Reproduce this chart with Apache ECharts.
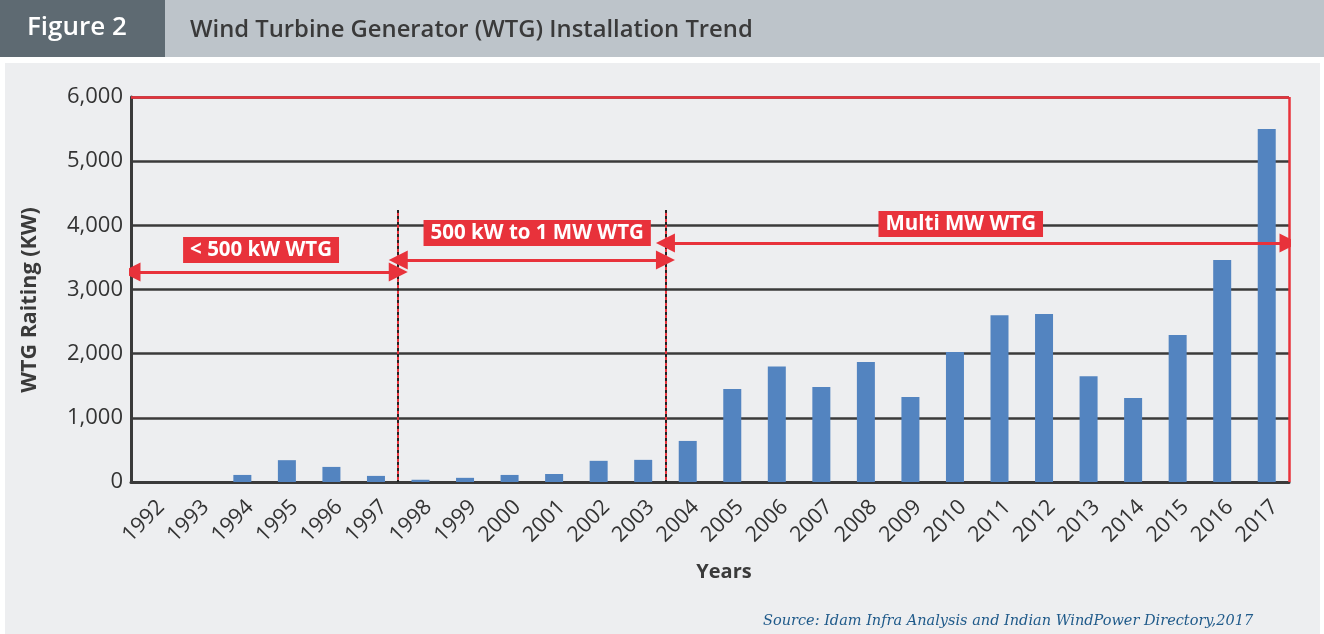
<!DOCTYPE html>
<html>
<head>
<meta charset="utf-8">
<script src="https://cdn.jsdelivr.net/npm/echarts@6/dist/echarts.min.js"></script>
<style>
  html, body { margin: 0; padding: 0; background: #fff; }
  #chart { width: 1324px; height: 634px; }
</style>
</head>
<body>
<div id="chart"></div>
<script>
const years = ['1992','1993','1994','1995','1996','1997','1998','1999','2000','2001','2002','2003','2004',
  '2005','2006','2007','2008','2009','2010','2011','2012','2013','2014','2015','2016','2017'];
const rating = [0, 0, 110, 340, 235, 95, 35, 65, 110, 125, 330, 345, 640,
  1450, 1800, 1480, 1870, 1325, 2025, 2600, 2620, 1650, 1310, 2290, 3460, 5500];
const yTicks = [0, 1000, 2000, 3000, 4000, 5000, 6000];

// eras: start/end in category slots, arrow height, label
const eraStart = [0, 6, 12];
const eraEnd = [6, 12, 26];
const eraArrowY = [3273, 3460, 3725];
const eraLabels = ['< 500 kW WTG', '500 kW to 1 MW WTG', 'Multi MW WTG'];
const eraLabelX = [2.92, 9.12, 18.63];
const eraLabelY = [3615, 3880, 4020];
const dividerX = [6, 12];
const dividerTop = 4240;

const red = '#e8323b';
const dark = '#3a3a3a';

const chart = echarts.init(document.getElementById('chart'));

const arrows = eraStart.map((s, i) => ({ coords: [[s, eraArrowY[i]], [eraEnd[i], eraArrowY[i]]] }));
const dividers = dividerX.map(x => ({ coords: [[x, dividerTop], [x, 0]] }));
const frame = [
  { coords: [[0, 6000], [26, 6000]] },
  { coords: [[26, 6000], [26, 0]] }
];

chart.setOption({
  backgroundColor: '#ffffff',
  animation: false,
  textStyle: { fontFamily: 'Open Sans' },
  graphic: [
    { type: 'rect', shape: { x: 0, y: 0, width: 1324, height: 57 }, style: { fill: '#bdc4ca' }, z: -10 },
    { type: 'rect', shape: { x: 0, y: 0, width: 165, height: 57 }, style: { fill: '#5e6a72' }, z: -9 },
    { type: 'rect', shape: { x: 5, y: 63, width: 1315, height: 571 }, style: { fill: '#edeef0' }, z: -10 },
    { type: 'text', left: 27, top: 15, z: 10,
      style: { text: 'Figure 2', fill: '#ffffff', font: '600 26px "Open Sans"' } },
    { type: 'text', left: 190, top: 18, z: 10,
      style: { text: 'Wind Turbine Generator (WTG) Installation Trend', fill: '#3a3a3a', font: '600 23.8px "Open Sans"' } },
    { type: 'text', x: 30, y: 300, rotation: Math.PI / 2, z: 10,
      style: { text: 'WTG Raiting (KW)', fill: dark, font: 'bold 21.5px "Open Sans"', align: 'center', verticalAlign: 'middle' } },
    { type: 'text', x: 724, y: 572, z: 10,
      style: { text: 'Years', fill: dark, font: 'bold 20px "Open Sans"', align: 'center', verticalAlign: 'middle' } },
    { type: 'text', left: 763, top: 614, z: 10,
      style: { text: 'Source: Idam Infra Analysis and Indian WindPower Directory,2017', fill: '#1f5a8a',
        font: 'italic 14.5px "DejaVu Serif"' } }
  ],
  grid: { left: 131, right: 35, top: 97, bottom: 152 },
  xAxis: [
    {
      type: 'category',
      data: years,
      axisLine: { lineStyle: { color: dark, width: 3 } },
      axisTick: { length: 9, lineStyle: { color: dark, width: 3 } },
      axisLabel: { rotate: 45, fontSize: 21.5, color: '#333', margin: 14, verticalAlign: 'top' }
    },
    { type: 'value', min: 0, max: 26, show: false }
  ],
  yAxis: {
    type: 'value',
    min: 0,
    max: 6000,
    interval: 1000,
    axisLine: { show: true, lineStyle: { color: dark, width: 3 } },
    axisTick: { show: false },
    axisLabel: {
      fontSize: 22, color: '#333', margin: 8,
      formatter: v => yTicks.includes(v) ? v.toLocaleString('en-US') : ''
    },
    splitLine: { lineStyle: { color: dark, width: 2.5 } }
  },
  series: [
    {
      type: 'bar',
      data: rating,
      barWidth: 18,
      itemStyle: { color: '#5384c0' },
      z: 3
    },
    {
      type: 'lines',
      coordinateSystem: 'cartesian2d',
      xAxisIndex: 1,
      data: frame,
      lineStyle: { color: red, width: 2.5, opacity: 1 },
      symbol: 'none',
      z: 4
    },
    {
      type: 'lines',
      coordinateSystem: 'cartesian2d',
      xAxisIndex: 1,
      data: dividers,
      lineStyle: { color: '#222', width: 2, type: [3, 3], opacity: 1 },
      symbol: 'none',
      z: 4
    },
    {
      type: 'lines',
      coordinateSystem: 'cartesian2d',
      xAxisIndex: 1,
      data: dividers,
      lineStyle: { color: red, width: 2, type: [3, 3], dashOffset: 3, opacity: 1 },
      symbol: 'none',
      z: 4
    },
    {
      type: 'lines',
      coordinateSystem: 'cartesian2d',
      xAxisIndex: 1,
      data: arrows,
      lineStyle: { color: red, width: 3, opacity: 1 },
      symbol: ['triangle', 'triangle'],
      symbolSize: 19,
      z: 5
    },
    {
      type: 'scatter',
      xAxisIndex: 1,
      symbolSize: 0,
      itemStyle: { opacity: 1 },
      data: eraLabels.map((t, i) => ({ name: t, value: [eraLabelX[i], eraLabelY[i]] })),
      label: {
        show: true,
        position: 'inside',
        formatter: p => p.name,
        color: '#fff',
        fontSize: 20.5,
        fontWeight: 'bold',
        backgroundColor: red,
        padding: [3, 7, 2, 7]
      },
      z: 6
    }
  ]
});
</script>
</body>
</html>
